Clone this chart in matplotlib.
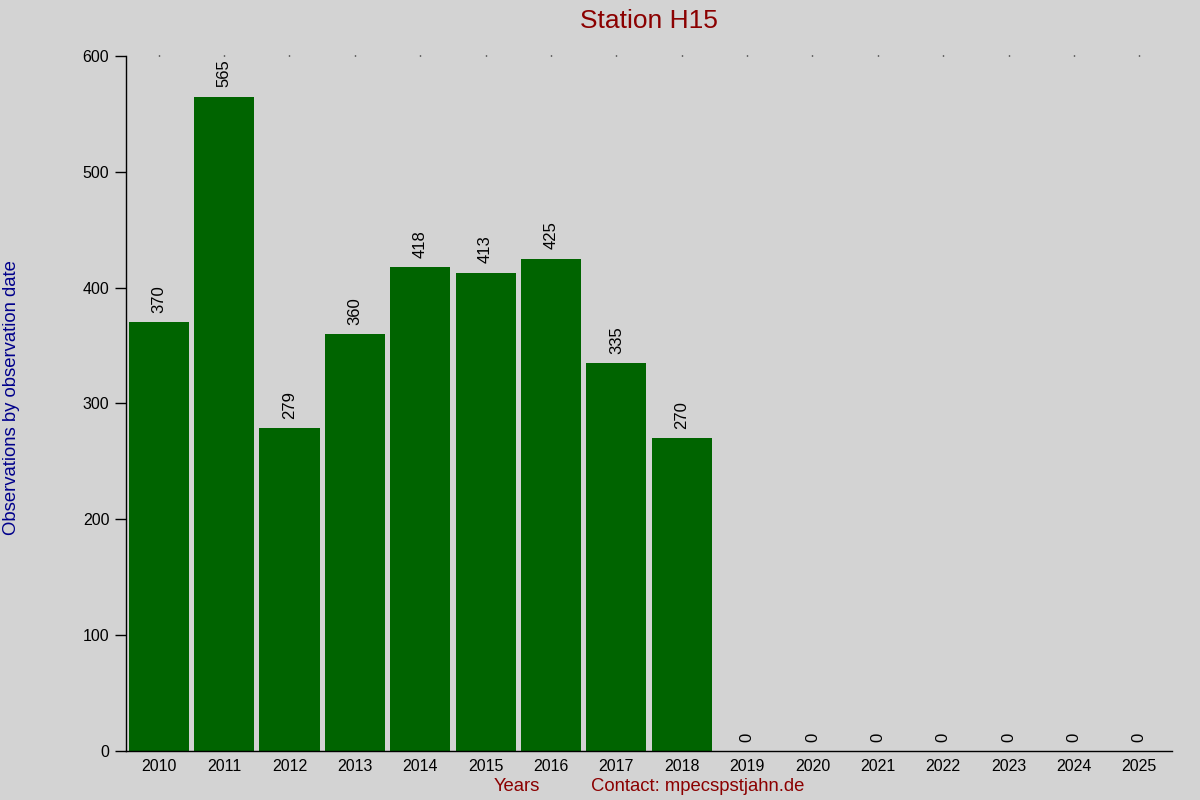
import numpy as np
import matplotlib.pyplot as plt

plt.rcParams['font.family'] = ['Liberation Sans', 'DejaVu Sans']

# Datos
years = ['2010', '2011', '2012', '2013', '2014', '2015', '2016', '2017',
         '2018', '2019', '2020', '2021', '2022', '2023', '2024', '2025']
obs = [370, 565, 279, 360, 418, 413, 425, 335, 270, 0, 0, 0, 0, 0, 0, 0]
yticks = [0, 100, 200, 300, 400, 500, 600]

bg = '#d3d3d3'
fig = plt.figure(figsize=(12, 8), dpi=100, facecolor=bg)
ax = fig.add_axes([0.105, 0.06125, 0.8717, 0.86875], facecolor=bg)

x = np.arange(len(years))
bars = ax.bar(x, obs, width=0.92, color='#006400')
for xi, v in zip(x, obs):
    ax.text(xi, v + 8, str(v), rotation=90, ha='center', va='bottom',
            fontsize=12, color='black')

ax.set_xlim(-0.5, len(years) - 0.5)
ax.set_ylim(0, 600)
ax.set_xticks(x)
ax.set_xticklabels(years, fontsize=11.5)
ax.set_yticks(yticks)
ax.set_yticklabels([str(t) for t in yticks], fontsize=11.5)

for s in ['top', 'right']:
    ax.spines[s].set_visible(False)
ax.spines['left'].set_linewidth(1)
ax.spines['bottom'].set_linewidth(1)
ax.tick_params(axis='y', direction='out', length=8, width=1, pad=4)
ax.tick_params(axis='x', length=0, pad=6)
# puntos pequeños arriba
ax.tick_params(axis='x', which='both', top=True, labeltop=False)
for t in ax.xaxis.get_major_ticks():
    t.tick2line.set_markersize(1)
    t.tick2line.set_markeredgewidth(1)

fig.text(0.541, 0.974, 'Station H15', ha='center', va='center', fontsize=19,
         color='#8b0000')
fig.text(0.01, 0.503, 'Observations by observation date', rotation=90,
         ha='center', va='center', fontsize=13.3, color='#00008b')
fig.text(0.431, 0.017, 'Years', ha='center', va='center', fontsize=13.3,
         color='#8b0000')
fig.text(0.4925, 0.017, 'Contact: mpecspstjahn.de', ha='left', va='center',
         fontsize=13.3, color='#8b0000')

fig.savefig('out.png', dpi=100, facecolor=bg)
